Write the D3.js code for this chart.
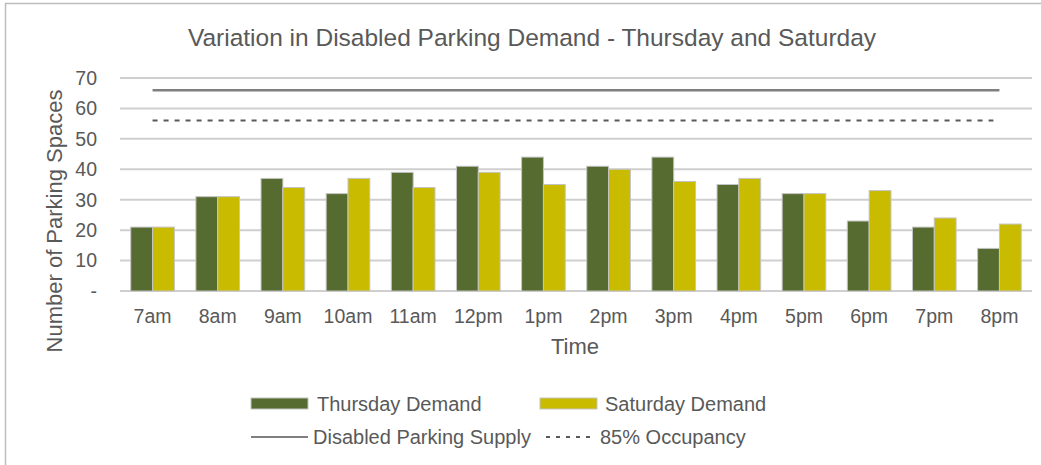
<!DOCTYPE html>
<head>
  <meta charset="utf-8">
  <script src="https://d3js.org/d3.v7.min.js"></script>
  <style>
    body { margin: 0; background: #fff; font-family: "Liberation Sans", Arial, sans-serif; }
    text { fill: #595959; }
    .grid line { stroke: #cfcfcf; stroke-width: 2px; }
    .bar { stroke: #c4c4c4; stroke-width: 1px; }
  </style>
</head>
<body>
  <script>
    var times = ["7am", "8am", "9am", "10am", "11am", "12pm", "1pm", "2pm", "3pm", "4pm", "5pm", "6pm", "7pm", "8pm"];
    var thursday = [21, 31, 37, 32, 39, 41, 44, 41, 44, 35, 32, 23, 21, 14];
    var saturday = [21, 31, 34, 37, 34, 39, 35, 40, 36, 37, 32, 33, 24, 22];
    var supply = 66;
    var occupancy85 = 56;
    var yTicks = [0, 10, 20, 30, 40, 50, 60, 70];

    var series = [
      {name: "Thursday Demand", values: thursday, color: "#556B2F"},
      {name: "Saturday Demand", values: saturday, color: "#C8BB00"}
    ];

    var width = 1041, height = 465;
    var margin = {top: 78, right: 9, bottom: 174, left: 120};
    var plotW = width - margin.left - margin.right,
        plotH = height - margin.top - margin.bottom;

    var svg = d3.select("body").append("svg")
      .attr("width", width)
      .attr("height", height);

    // outer frame (top and left edges visible)
    svg.append("line").attr("x1", 5).attr("x2", width).attr("y1", 3.5).attr("y2", 3.5)
      .attr("stroke", "#bdbdbd").attr("stroke-width", 1.5);
    svg.append("line").attr("x1", 5.5).attr("x2", 5.5).attr("y1", 3).attr("y2", height)
      .attr("stroke", "#bdbdbd").attr("stroke-width", 1.5);

    var g = svg.append("g")
      .attr("transform", "translate(" + margin.left + "," + margin.top + ")");

    var x = d3.scaleBand().domain(times).range([0, plotW]).paddingInner(0.33).paddingOuter(0.165);
    var x1 = d3.scaleBand().domain(series.map(function(s) { return s.name; })).range([0, x.bandwidth()]);
    var y = d3.scaleLinear().domain([0, 70]).range([plotH, 0]);

    // gridlines
    g.append("g").attr("class", "grid")
      .selectAll("line")
      .data(yTicks)
      .enter().append("line")
        .attr("x1", 0).attr("x2", plotW)
        .attr("y1", function(d) { return y(d); })
        .attr("y2", function(d) { return y(d); });

    // y tick labels
    g.append("g")
      .selectAll("text")
      .data(yTicks)
      .enter().append("text")
        .attr("x", -23)
        .attr("y", function(d) { return y(d); })
        .attr("dy", "0.35em")
        .attr("text-anchor", "end")
        .style("font-size", "19.5px")
        .text(function(d) { return d === 0 ? "-" : d; });

    // bars
    var groups = g.selectAll(".group")
      .data(times)
      .enter().append("g")
        .attr("class", "group")
        .attr("transform", function(d) { return "translate(" + x(d) + ",0)"; });

    groups.selectAll("rect")
      .data(function(d, i) {
        return series.map(function(s) { return {name: s.name, value: s.values[i], color: s.color}; });
      })
      .enter().append("rect")
        .attr("class", "bar")
        .attr("x", function(d) { return x1(d.name); })
        .attr("width", x1.bandwidth())
        .attr("y", function(d) { return y(d.value); })
        .attr("height", function(d) { return plotH - y(d.value); })
        .attr("fill", function(d) { return d.color; });

    // supply and 85% lines, from first to last category centre
    var xFirst = x(times[0]) + x.bandwidth() / 2,
        xLast = x(times[times.length - 1]) + x.bandwidth() / 2;

    g.append("line")
      .attr("x1", xFirst).attr("x2", xLast)
      .attr("y1", y(supply)).attr("y2", y(supply))
      .attr("stroke", "#7f7f7f").attr("stroke-width", 2.5);

    g.append("line")
      .attr("x1", xFirst).attr("x2", xLast - 6)
      .attr("y1", y(occupancy85)).attr("y2", y(occupancy85))
      .attr("stroke", "#595959").attr("stroke-width", 2)
      .attr("stroke-dasharray", "5,6");

    // x labels
    g.append("g")
      .selectAll("text")
      .data(times)
      .enter().append("text")
        .attr("x", function(d) { return x(d) + x.bandwidth() / 2; })
        .attr("y", plotH + 32)
        .attr("text-anchor", "middle")
        .style("font-size", "19.5px")
        .text(function(d) { return d; });

    // axis titles
    svg.append("text")
      .attr("x", 575).attr("y", 354)
      .attr("text-anchor", "middle")
      .style("font-size", "22px")
      .text("Time");

    svg.append("text")
      .attr("transform", "translate(62,221) rotate(-90)")
      .attr("text-anchor", "middle")
      .style("font-size", "22px")
      .text("Number of Parking Spaces");

    // title
    svg.append("text")
      .attr("x", 532).attr("y", 46)
      .attr("text-anchor", "middle")
      .style("font-size", "24.5px")
      .text("Variation in Disabled Parking Demand - Thursday and Saturday");

    // legend
    var legend = svg.append("g");
    var items = [
      {label: "Thursday Demand", type: "rect", color: series[0].color, x: 251, y: 404, tx: 317},
      {label: "Saturday Demand", type: "rect", color: series[1].color, x: 540, y: 404, tx: 605},
      {label: "Disabled Parking Supply", type: "line", color: "#7f7f7f", x: 251, y: 437, tx: 313},
      {label: "85% Occupancy", type: "dash", color: "#595959", x: 546, y: 437, tx: 600}
    ];

    items.forEach(function(it) {
      if (it.type === "rect") {
        legend.append("rect")
          .attr("x", it.x).attr("y", it.y - 6)
          .attr("width", 57).attr("height", 11)
          .attr("fill", it.color)
          .attr("stroke", "#c4c4c4");
      } else {
        legend.append("line")
          .attr("x1", it.x).attr("x2", it.type === "dash" ? it.x + 45 : it.x + 57)
          .attr("y1", it.y).attr("y2", it.y)
          .attr("stroke", it.color)
          .attr("stroke-width", 2)
          .attr("stroke-dasharray", it.type === "dash" ? "4,6" : null);
      }
      legend.append("text")
        .attr("x", it.tx).attr("y", it.y)
        .attr("dy", "0.35em")
        .style("font-size", "20px")
        .text(it.label);
    });
  </script>
</body>
